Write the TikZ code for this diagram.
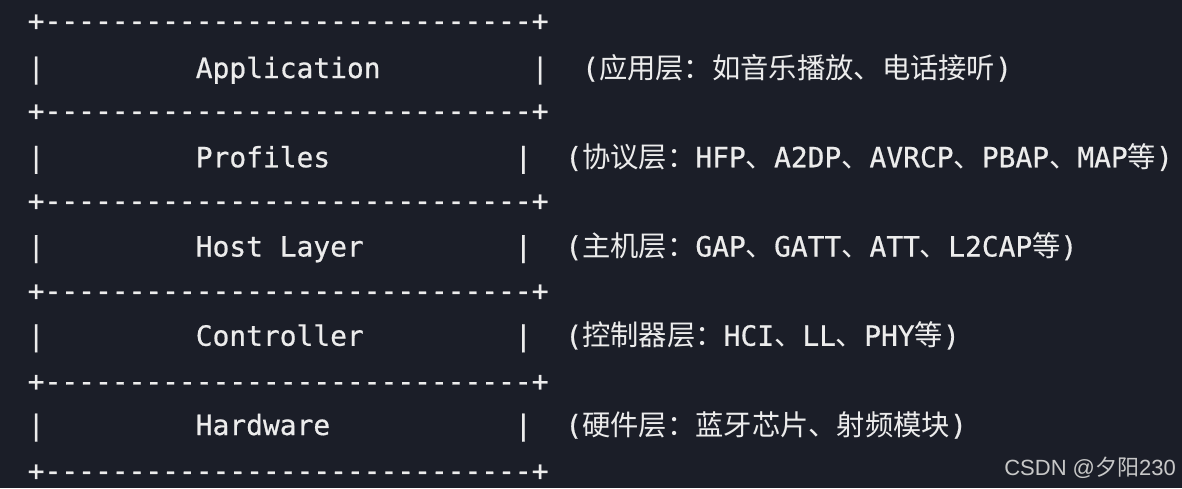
\documentclass[tikz,border=0pt]{standalone}
\usepackage{fontspec}
\setmonofont[FakeBold=0.6]{DejaVu Sans Mono}
\newfontfamily\cjk{Noto Sans CJK SC}
\newfontfamily\markfont{Liberation Sans}
\definecolor{termbg}{HTML}{1B1E28}
\definecolor{termfg}{HTML}{ECECEC}
\definecolor{markgray}{HTML}{C8C8C8}
\newcommand{\zh}[1]{{\cjk\fontsize{28.3}{30}\selectfont#1}}
\tikzset{
  txt/.style={inner sep=0pt, anchor=base west, text=termfg,
    font=\ttfamily\fontsize{27.9}{30}\selectfont},
  watermark/.style={inner sep=0pt, anchor=base east, text=markgray,
    font=\markfont\fontsize{22}{24}\selectfont},
}

\begin{document}
\begin{tikzpicture}[x=1pt, y=-1pt]
  \def\cw{16.8}   % one character cell
  \def\xo{27.6}   % left edge of column 0
  %
  \fill[termbg] (0,0) rectangle (1182,488);
  \useasboundingbox (0,0) rectangle (1182,488);
  %
  % border lines
  \node[txt] (b0) at (\xo, 30.5)  {+-----------------------------+};
  \node[txt] (b1) at (\xo, 120.5) {+-----------------------------+};
  \node[txt] (b2) at (\xo, 210.5) {+-----------------------------+};
  \node[txt] (b3) at (\xo, 300.5) {+-----------------------------+};
  \node[txt] (b4) at (\xo, 391)   {+-----------------------------+};
  \node[txt] (b5) at (\xo, 480.5) {+-----------------------------+};
  %
  % application
  \node[txt] (app-l) at (\xo, 78)         {|};
  \node[txt] (app)   at (\xo+10*\cw, 78)  {Application};
  \node[txt] (app-r) at (\xo+30*\cw, 78)  {|};
  \node[txt] (app-d) at (\xo+33*\cw, 78)  {(\zh{应用层：如音乐播放、电话接听})};
  %
  % profiles
  \node[txt] (prf-l) at (\xo, 167.25)        {|};
  \node[txt] (prf)   at (\xo+10*\cw, 167.25) {Profiles};
  \node[txt] (prf-r) at (\xo+29*\cw, 167.25) {|};
  \node[txt] (prf-d) at (\xo+32*\cw, 167.25) {(\zh{协议层：}HFP\zh{、}A2DP\zh{、}AVRCP\zh{、}PBAP\zh{、}MAP\zh{等})};
  %
  % host layer
  \node[txt] (host-l) at (\xo, 256.5)        {|};
  \node[txt] (host)   at (\xo+10*\cw, 256.5) {Host Layer};
  \node[txt] (host-r) at (\xo+29*\cw, 256.5) {|};
  \node[txt] (host-d) at (\xo+32*\cw, 256.5) {(\zh{主机层：}GAP\zh{、}GATT\zh{、}ATT\zh{、}L2CAP\zh{等})};
  %
  % controller
  \node[txt] (ctl-l) at (\xo, 345.75)        {|};
  \node[txt] (ctl)   at (\xo+10*\cw, 345.75) {Controller};
  \node[txt] (ctl-r) at (\xo+29*\cw, 345.75) {|};
  \node[txt] (ctl-d) at (\xo+32*\cw, 345.75) {(\zh{控制器层：}HCI\zh{、}LL\zh{、}PHY\zh{等})};
  %
  % hardware
  \node[txt] (hw-l) at (\xo, 435)        {|};
  \node[txt] (hw)   at (\xo+10*\cw, 435) {Hardware};
  \node[txt] (hw-r) at (\xo+29*\cw, 435) {|};
  \node[txt] (hw-d) at (\xo+32*\cw, 435) {(\zh{硬件层：蓝牙芯片、射频模块})};
  %
  \node[watermark] (csdn) at (1176, 475) {CSDN @{\cjk 夕阳}230};
\end{tikzpicture}
\end{document}
